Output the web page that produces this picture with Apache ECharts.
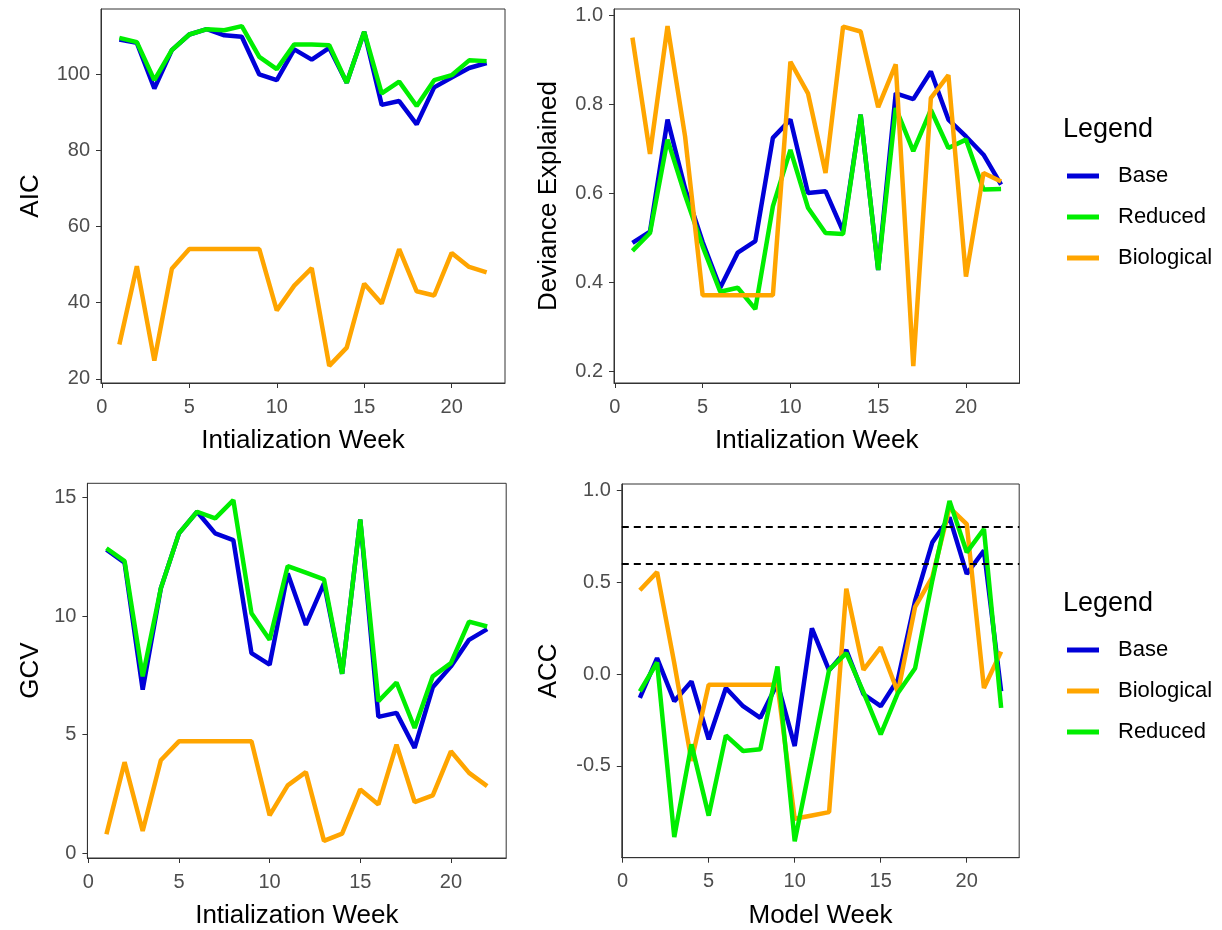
<!DOCTYPE html>
<html>
<head>
<meta charset="utf-8">
<title>Model comparison by week</title>
<script src="https://cdn.jsdelivr.net/npm/echarts@6/dist/echarts.min.js"></script>
<style>
  html, body { margin: 0; padding: 0; background: #fff; }
  #chart { width: 1222px; height: 930px; }
</style>
</head>
<body>
<div id="chart"></div>
<script>
// Weeks shared by all four panels
const weeks = [1,2,3,4,5,6,7,8,9,10,11,12,13,14,15,16,17,18,19,20,21,22];

// AIC by initialization week
const aicBase       = [109.2,108.3,96.3,106.4,110.5,111.9,110.3,109.9,100.0,98.5,106.6,103.9,107.0,97.8,111.2,92.0,93.0,86.9,96.6,99.2,101.7,103.0];
const aicReduced    = [109.6,108.5,98.5,106.4,110.5,111.9,111.6,112.7,104.6,101.4,107.9,107.9,107.7,97.8,111.2,95.0,98.1,91.7,98.5,99.8,103.7,103.5];
const aicBiological = [29.0,49.6,24.8,48.9,54.1,54.1,54.1,54.1,54.1,38.0,44.5,49.1,23.4,28.2,45.0,39.8,54.1,43.0,41.9,53.1,49.4,48.0];

// Deviance explained by initialization week
const devBase       = [0.488,0.513,0.765,0.61,0.49,0.387,0.466,0.492,0.724,0.765,0.600,0.604,0.514,0.776,0.427,0.824,0.811,0.873,0.765,0.727,0.686,0.619];
const devReduced    = [0.470,0.510,0.720,0.595,0.48,0.378,0.387,0.339,0.570,0.697,0.567,0.510,0.508,0.776,0.427,0.791,0.694,0.787,0.701,0.720,0.608,0.609];
const devBiological = [0.949,0.688,0.975,0.727,0.370,0.370,0.370,0.370,0.370,0.895,0.824,0.645,0.974,0.963,0.793,0.889,0.211,0.813,0.865,0.412,0.645,0.626];

// GCV by initialization week
const gcvBase       = [12.80,12.25,6.90,11.17,13.49,14.40,13.49,13.20,8.44,7.95,11.80,9.63,11.38,7.57,14.07,5.75,5.92,4.44,7.00,7.88,9.00,9.45];
const gcvReduced    = [12.86,12.32,7.46,11.17,13.49,14.40,14.12,14.89,10.12,9.00,12.11,11.83,11.55,7.57,14.07,6.41,7.20,5.28,7.46,8.02,9.77,9.56];
const gcvBiological = [0.80,3.84,0.94,3.92,4.72,4.72,4.72,4.72,4.72,1.60,2.86,3.42,0.52,0.83,2.69,2.06,4.58,2.16,2.44,4.30,3.39,2.83];

// ACC by model week
const accBase       = [-0.13,0.087,-0.148,-0.04,-0.355,-0.076,-0.175,-0.238,-0.05,-0.392,0.249,0.02,0.13,-0.11,-0.175,-0.03,0.40,0.717,0.853,0.546,0.673,-0.094];
const accReduced    = [-0.094,0.063,-0.888,-0.383,-0.771,-0.334,-0.419,-0.410,0.041,-0.911,-0.45,0.023,0.114,-0.10,-0.328,-0.103,0.032,0.51,0.943,0.663,0.79,-0.184];
const accBiological = [0.456,0.555,0.06,-0.473,-0.058,-0.058,-0.058,-0.058,-0.058,-0.788,-0.77,-0.752,0.465,0.023,0.146,-0.10,0.366,0.528,0.907,0.817,-0.076,0.122];
const accThresholds = [0.8, 0.6];

// Tick labels
const weekTicks = [0, 5, 10, 15, 20];
const aicTicks = [20, 40, 60, 80, 100];
const devTicks = [0.2, 0.4, 0.6, 0.8, 1.0];
const gcvTicks = [0, 5, 10, 15];
const accTicks = [-0.5, 0.0, 0.5, 1.0];

const COLORS = { Base: '#0000D8', Reduced: '#00EE00', Biological: '#FFA500' };
const FONT = "'Liberation Sans', Arial, sans-serif";
const TICK_COLOR = '#333333';
const LABEL_COLOR = '#4D4D4D';

function pairs(values) {
  return weeks.map((w, i) => [w, values[i]]);
}

function xAxis(gridIndex, name) {
  return {
    type: 'value', gridIndex,
    min: -0.05, max: 23.05,
    name, nameLocation: 'middle', nameGap: 45,
    nameTextStyle: { fontFamily: FONT, fontSize: 26, color: '#000' },
    axisLine: { show: true, onZero: false, lineStyle: { color: TICK_COLOR, width: 1 } },
    axisTick: { show: true, inside: false, length: 5, customValues: weekTicks, lineStyle: { color: TICK_COLOR, width: 1 } },
    axisLabel: { customValues: weekTicks, margin: 14, fontFamily: FONT, fontSize: 20, color: LABEL_COLOR },
    splitLine: { show: false }
  };
}

function yAxis(gridIndex, name, min, max, ticks, nameGap, fmt) {
  return {
    type: 'value', gridIndex, min, max,
    name, nameLocation: 'middle', nameGap, nameRotate: 90,
    nameTextStyle: { fontFamily: FONT, fontSize: 26, color: '#000' },
    axisLine: { show: true, onZero: false, lineStyle: { color: TICK_COLOR, width: 1 } },
    axisTick: { show: true, inside: false, length: 5, customValues: ticks, lineStyle: { color: TICK_COLOR, width: 1 } },
    axisLabel: { customValues: ticks, margin: 11, fontFamily: FONT, fontSize: 20, color: LABEL_COLOR,
                 formatter: fmt || (v => String(v)) },
    splitLine: { show: false }
  };
}

function line(name, values, idx, z) {
  return {
    type: 'line', name, data: pairs(values),
    xAxisIndex: idx, yAxisIndex: idx,
    showSymbol: false, symbol: 'none', z,
    lineStyle: { color: COLORS[name], width: 4.5 },
    itemStyle: { color: COLORS[name] },
    emphasis: { disabled: true },
    animation: false
  };
}

const oneDecimal = v => v.toFixed(1);

const gridStyle = { show: true, borderColor: TICK_COLOR, borderWidth: 1, backgroundColor: '#fff', containLabel: false };

const accBaseSeries = line('Base', accBase, 3, 2);
accBaseSeries.markLine = {
  symbol: 'none', silent: true, animation: false,
  label: { show: false },
  lineStyle: { type: [7, 5], color: '#000', width: 2 },
  emphasis: { disabled: true },
  data: accThresholds.map(v => ({ yAxis: v }))
};

const legendCommon = {
  orient: 'vertical', icon: 'rect', itemWidth: 32, itemHeight: 5, itemGap: 19,
  padding: 0, selectedMode: false,
  textStyle: { fontFamily: FONT, fontSize: 22, color: '#000', padding: [0, 0, 0, 14] }
};

const option = {
  backgroundColor: '#fff',
  animation: false,
  title: [
    { text: 'Legend', left: 1063, top: 116, padding: 0, textStyle: { fontFamily: FONT, fontSize: 27, fontWeight: 'normal', color: '#000' } },
    { text: 'Legend', left: 1063, top: 590, padding: 0, textStyle: { fontFamily: FONT, fontSize: 27, fontWeight: 'normal', color: '#000' } }
  ],
  legend: [
    Object.assign({}, legendCommon, { left: 1067, top: 165, data: ['Base', 'Reduced', 'Biological'] }),
    Object.assign({}, legendCommon, { left: 1067, top: 639, data: ['Base', 'Biological', 'Reduced'] })
  ],
  grid: [
    Object.assign({ left: 101, top: 9, width: 404, height: 374 }, gridStyle),
    Object.assign({ left: 614, top: 9, width: 405.5, height: 374 }, gridStyle),
    Object.assign({ left: 87.4, top: 483.3, width: 418.8, height: 375 }, gridStyle),
    Object.assign({ left: 621.8, top: 484, width: 397.4, height: 373.7 }, gridStyle)
  ],
  xAxis: [
    xAxis(0, 'Intialization Week'),
    xAxis(1, 'Intialization Week'),
    xAxis(2, 'Intialization Week'),
    xAxis(3, 'Model Week')
  ],
  yAxis: [
    yAxis(0, 'AIC', 18.9, 117.2, aicTicks, 57),
    yAxis(1, 'Deviance Explained', 0.173, 1.0135, devTicks, 52, oneDecimal),
    yAxis(2, 'GCV', -0.2, 15.6, gcvTicks, 44, v => String(v)),
    yAxis(3, 'ACC', -1.0, 1.035, accTicks, 60, oneDecimal)
  ],
  series: [
    line('Base', aicBase, 0, 2),
    line('Reduced', aicReduced, 0, 3),
    line('Biological', aicBiological, 0, 4),

    line('Base', devBase, 1, 2),
    line('Reduced', devReduced, 1, 3),
    line('Biological', devBiological, 1, 4),

    line('Base', gcvBase, 2, 2),
    line('Reduced', gcvReduced, 2, 3),
    line('Biological', gcvBiological, 2, 4),

    accBaseSeries,
    line('Biological', accBiological, 3, 3),
    line('Reduced', accReduced, 3, 4)
  ]
};

const chart = echarts.init(document.getElementById('chart'), null, { renderer: 'canvas' });
chart.setOption(option);
</script>
</body>
</html>
